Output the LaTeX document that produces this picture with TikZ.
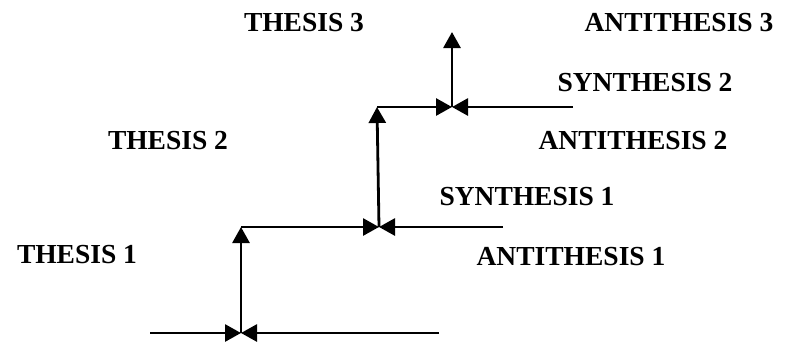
\documentclass[tikz,border=0pt]{standalone}
\usepackage{fontspec}
\setmainfont{Liberation Serif}
\usetikzlibrary{arrows.meta}

\begin{document}
\begin{tikzpicture}[
    x=1pt, y=-1pt,
    label/.style={font=\fontsize{27.5}{30}\selectfont\bfseries, inner sep=0pt},
    arrow/.style={-{Triangle[length=16pt,width=17pt]}, line width=2.8pt}
]
\useasboundingbox (0,0) rectangle (792,341);

% Labels
\node[label] (thesis1) at (77,255) {THESIS 1};
\node[label] (antithesis1) at (571,257) {ANTITHESIS 1};
\node[label] (synthesis1) at (527,197) {SYNTHESIS 1};
\node[label] (thesis2) at (168,141) {THESIS 2};
\node[label] (antithesis2) at (633,141) {ANTITHESIS 2};
\node[label] (synthesis2) at (645,83) {SYNTHESIS 2};
\node[label] (thesis3) at (304,23) {THESIS 3};
\node[label] (antithesis3) at (679,23) {ANTITHESIS 3};

% Level 0
\coordinate (l0) at (150,333);
\coordinate (m0) at (241,333);
\coordinate (r0) at (439,333);

% Level 1
\coordinate (c1) at (241,227);
\coordinate (m1) at (379,227);
\coordinate (r1) at (503,227);

% Level 2
\coordinate (c2) at (377,107);
\coordinate (m2) at (452,107);
\coordinate (r2) at (573,107);

% Level 3
\coordinate (c3) at (452,32);

% Arrows
\draw[arrow] (l0) -- (m0);
\draw[arrow] (r0) -- (m0);
\draw[arrow] (m0) -- (c1);
\draw[arrow] (c1) -- (m1);
\draw[arrow] (r1) -- (m1);
\draw[arrow] (m1) -- (c2);
\draw[arrow] (c2) -- (m2);
\draw[arrow] (r2) -- (m2);
\draw[arrow] (m2) -- (c3);

\end{tikzpicture}
\end{document}
